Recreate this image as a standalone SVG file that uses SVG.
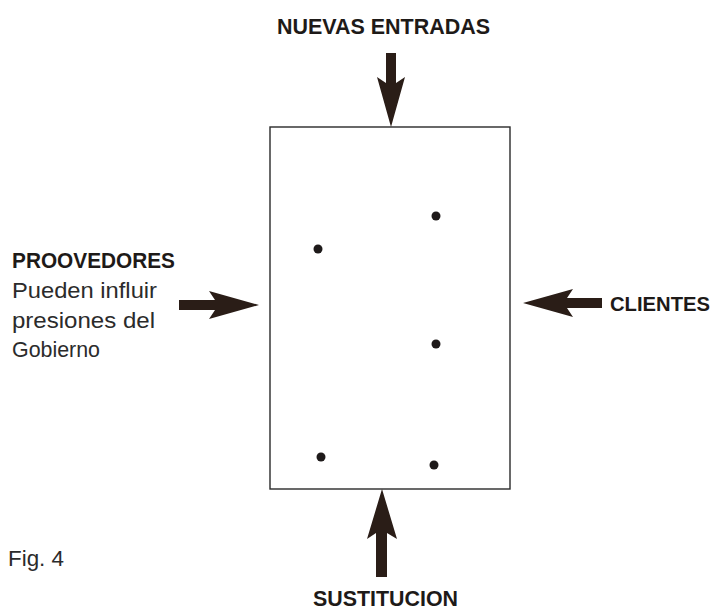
<svg xmlns="http://www.w3.org/2000/svg" width="716" height="610" viewBox="0 0 716 610">
<style>
.t{font-family:"Liberation Sans",Arial,sans-serif;fill:#1e1a18}
.b{font-weight:bold;font-size:22px}
.r{font-size:22px;fill:#2b2b2b}
.box{fill:none;stroke:#2a2a2a;stroke-width:1.4}
.dot{fill:#1e1a1a}
.arr{fill:#2a1d17}
</style>
<rect width="716" height="610" fill="#fff"/>
<g id="empresa">
<rect class="box" x="270" y="127" width="240" height="362"/>
<circle class="dot" cx="318" cy="249" r="4.5"/>
<circle class="dot" cx="436" cy="216" r="4.5"/>
<circle class="dot" cx="436" cy="344" r="4.5"/>
<circle class="dot" cx="321" cy="457" r="4.5"/>
<circle class="dot" cx="434" cy="465" r="4.5"/>
</g>
<g id="nuevas-entradas">
<text class="t b" x="277" y="34" textLength="213" lengthAdjust="spacingAndGlyphs">NUEVAS ENTRADAS</text>
</g>
<g id="proovedores">
<text class="t b" x="12" y="268" textLength="163" lengthAdjust="spacingAndGlyphs">PROOVEDORES</text>
<text class="t r" x="12" y="298" textLength="145" lengthAdjust="spacingAndGlyphs">Pueden influir</text>
<text class="t r" x="12" y="328" textLength="143" lengthAdjust="spacingAndGlyphs">presiones del</text>
<text class="t r" x="12" y="357" textLength="88" lengthAdjust="spacingAndGlyphs">Gobierno</text>
</g>
<g id="clientes">
<text class="t b" x="610" y="311" style="font-size:20.5px" textLength="100" lengthAdjust="spacingAndGlyphs">CLIENTES</text>
</g>
<g id="sustitucion">
<text class="t b" x="313" y="606" textLength="145" lengthAdjust="spacingAndGlyphs">SUSTITUCION</text>
</g>
<g id="fig">
<text class="t r" x="8" y="566" textLength="56" lengthAdjust="spacingAndGlyphs">Fig. 4</text>
</g>
<g id="connectors">
<path class="arr" d="M391,127 L377,77 L386,83 L386,53 L396,53 L396,83 L405,77 Z"/>
<path class="arr" d="M259,305 L209,291 L215,300 L179,300 L179,310 L215,310 L209,319 Z"/>
<path class="arr" d="M523,303 L573,289 L567,298 L602,298 L602,308 L567,308 L573,317 Z"/>
<path class="arr" d="M382,489 L367,539 L376,533 L376,577 L387,577 L387,533 L397,539 Z"/>
</g>
</svg>
